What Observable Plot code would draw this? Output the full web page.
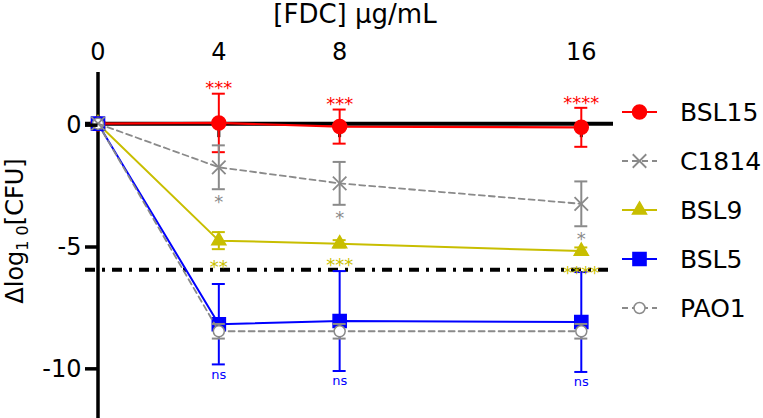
<!DOCTYPE html>
<html><head><meta charset="utf-8">
<script src="https://cdn.jsdelivr.net/npm/d3@7"></script>
<script src="https://cdn.jsdelivr.net/npm/@observablehq/plot@0.6"></script>
<style>body{margin:0;background:#fff} svg{font-family:"DejaVu Sans",sans-serif}</style>
</head><body><div id="chart"></div>
<script>
// ---- data ----
const doses = [0, 4, 8, 16];
const yTicks = [0, -5, -10];
const detectionLimit = -6;
const seriesNames = ["BSL15", "C1814", "BSL9", "BSL5", "PAO1"];

const bsl15Mean = [0, 0.03, -0.12, -0.15];
const bsl15Err  = [0, 1.2, 0.7, 0.8];
const bsl15Sig  = ["", "***", "***", "****"];

const c1814Mean = [0, -1.79, -2.45, -3.29];
const c1814Err  = [0, 0.9, 0.88, 0.92];
const c1814Sig  = ["", "*", "*", "*"];

const bsl9Mean = [0, -4.8, -4.93, -5.23];
const bsl9Err  = [0, 0.35, 0.15, 0.15];
const bsl9Sig  = ["", "**", "***", "****"];

const bsl5Mean = [0, -8.23, -8.1, -8.14];
const bsl5Err  = [0, 1.65, 2.05, 2.05];
const bsl5Sig  = ["", "ns", "ns", "ns"];

const pao1Mean = [0, -8.52, -8.52, -8.52];
const pao1Err  = [0, 0.3, 0.3, 0.3];
const pao1Sig  = ["", "", "", ""];

// ---- styles ----
const styles = {
  BSL15: {color: "#ff0000", symbol: "circle", r: 7, fill: "#ff0000", dash: null, width: 2.2, sigSide: "above", sigDy: -5, sigSize: 18},
  C1814: {color: "#8a8a8a", symbol: "times", r: 6.2, fill: "none", dash: "6,4", width: 1.8, sigSide: "below", sigDy: 13, sigSize: 18},
  BSL9:  {color: "#c8be00", symbol: "triangle", r: 5.2, fill: "#c8be00", dash: null, width: 2, sigSide: "below", sigDy: 18, sigSize: 18},
  BSL5:  {color: "#0000ff", symbol: "square", r: 7.4, fill: "#0000ff", dash: null, width: 2, sigSide: "below", sigDy: 10, sigSize: 13},
  PAO1:  {color: "#8a8a8a", symbol: "circle", r: 5.5, fill: "#ffffff", dash: "6,4", width: 1.8, sigSide: "below", sigDy: 10, sigSize: 13}
};
const seriesData = {
  BSL15: [bsl15Mean, bsl15Err, bsl15Sig],
  C1814: [c1814Mean, c1814Err, c1814Sig],
  BSL9:  [bsl9Mean, bsl9Err, bsl9Sig],
  BSL5:  [bsl5Mean, bsl5Err, bsl5Sig],
  PAO1:  [pao1Mean, pao1Err, pao1Sig]
};
const drawOrder = ["BSL15", "BSL9", "BSL5", "PAO1", "C1814"];

function rowsFor(name) {
  const [m, e, s] = seriesData[name];
  return doses.map((x, i) => ({series: name, x, mean: m[i], lo: m[i] - e[i], hi: m[i] + e[i], err: e[i], sig: s[i]}));
}

const marks = [];
// detection limit
marks.push(Plot.ruleY([detectionLimit], {stroke: "#000", strokeWidth: 4, strokeDasharray: "10,7,3,7", insetLeft: -12.5, insetRight: 1}));
// y axis line
marks.push(Plot.ruleX([0], {stroke: "#000", strokeWidth: 3.5}));
// zero / x axis line
marks.push(Plot.ruleY([0], {stroke: "#000", strokeWidth: 4, insetLeft: -12.5, insetRight: -2}));
// x ticks on zero line
marks.push(Plot.ruleX(doses.slice(1), {y1: 0, y2: 0, insetBottom: -14, stroke: "#000", strokeWidth: 3}));

for (const name of drawOrder) {
  const st = styles[name];
  const rows = rowsFor(name);
  const eb = rows.filter(d => d.err > 0);
  marks.push(Plot.line(rows, {x: "x", y: "mean", stroke: st.color, strokeWidth: st.width, strokeDasharray: st.dash}));
  marks.push(Plot.ruleX(eb, {x: "x", y1: "lo", y2: "hi", stroke: st.color, strokeWidth: 2}));
  marks.push(Plot.ruleY(eb, {y: "lo", x1: "x", x2: "x", insetLeft: -6.5, insetRight: -6.5, stroke: st.color, strokeWidth: 2}));
  marks.push(Plot.ruleY(eb, {y: "hi", x1: "x", x2: "x", insetLeft: -6.5, insetRight: -6.5, stroke: st.color, strokeWidth: 2}));
  marks.push(Plot.dot(rows, {x: "x", y: "mean", symbol: () => st.symbol, r: st.r, fill: st.fill, stroke: st.color, strokeWidth: st.symbol === "times" ? 1.8 : 1.5}));
}
for (const name of drawOrder) {
  const st = styles[name];
  const rows = rowsFor(name).filter(d => d.sig);
  marks.push(Plot.text(rows, {x: "x", y: st.sigSide === "above" ? "hi" : "lo", text: "sig", fill: st.color, fontSize: st.sigSize, dy: st.sigDy}));
}

marks.push(Plot.axisX({anchor: "top", ticks: doses, tickSize: 0, tickPadding: 13, fontSize: 24, tickFormat: d => String(d), label: null}));
marks.push(Plot.axisY({anchor: "left", ticks: yTicks, tickSize: 12.5, tickPadding: 4, fontSize: 24, strokeWidth: 3.5, tickFormat: d => String(d), label: null, dy: 1.5}));

const chart = Plot.plot({
  width: 763, height: 418,
  marginTop: 72, marginBottom: 0, marginLeft: 97.5, marginRight: 152,
  style: {fontFamily: "DejaVu Sans", background: "#fff", color: "#000", overflow: "visible"},
  x: {domain: [0, 17]},
  y: {domain: [-12.1, 2.1]},
  marks
});
document.getElementById("chart").appendChild(chart);

// titles & legend
const svg = d3.select(chart);
svg.append("text").attr("x", 355).attr("y", 23).attr("text-anchor", "middle")
  .attr("font-size", 26).attr("fill", "#000").text("[FDC] μg/mL");
const yl = svg.append("text").attr("transform", "translate(23,231) rotate(-90)")
  .attr("text-anchor", "middle").attr("font-size", 24).attr("fill", "#000");
yl.append("tspan").text("Δlog");
yl.append("tspan").attr("font-size", 16).attr("dy", 5).text("1 0");
yl.append("tspan").attr("dy", -5).text("[CFU]");

const lg = svg.append("g");
seriesNames.forEach((name, i) => {
  const st = styles[name];
  const y = 112 + i * 49;
  const g = lg.append("g").attr("transform", `translate(0,${y})`);
  g.append("line").attr("x1", 622).attr("x2", 657).attr("y1", 0).attr("y2", 0)
    .attr("stroke", st.color).attr("stroke-width", st.width).attr("stroke-dasharray", st.dash);
  const symType = {circle: d3.symbolCircle, times: d3.symbolTimes, triangle: d3.symbolTriangle, square: d3.symbolSquare}[st.symbol];
  g.append("path").attr("transform", "translate(639.5,0)")
    .attr("d", d3.symbol(symType, st.r * st.r * Math.PI)())
    .attr("fill", st.fill).attr("stroke", st.color).attr("stroke-width", st.symbol === "times" ? 1.8 : 1.5);
  g.append("text").attr("x", 680).attr("y", 0).attr("dy", "0.36em").attr("text-anchor", "start")
    .attr("font-size", 25).attr("fill", "#000").text(name);
});
</script></body></html>
